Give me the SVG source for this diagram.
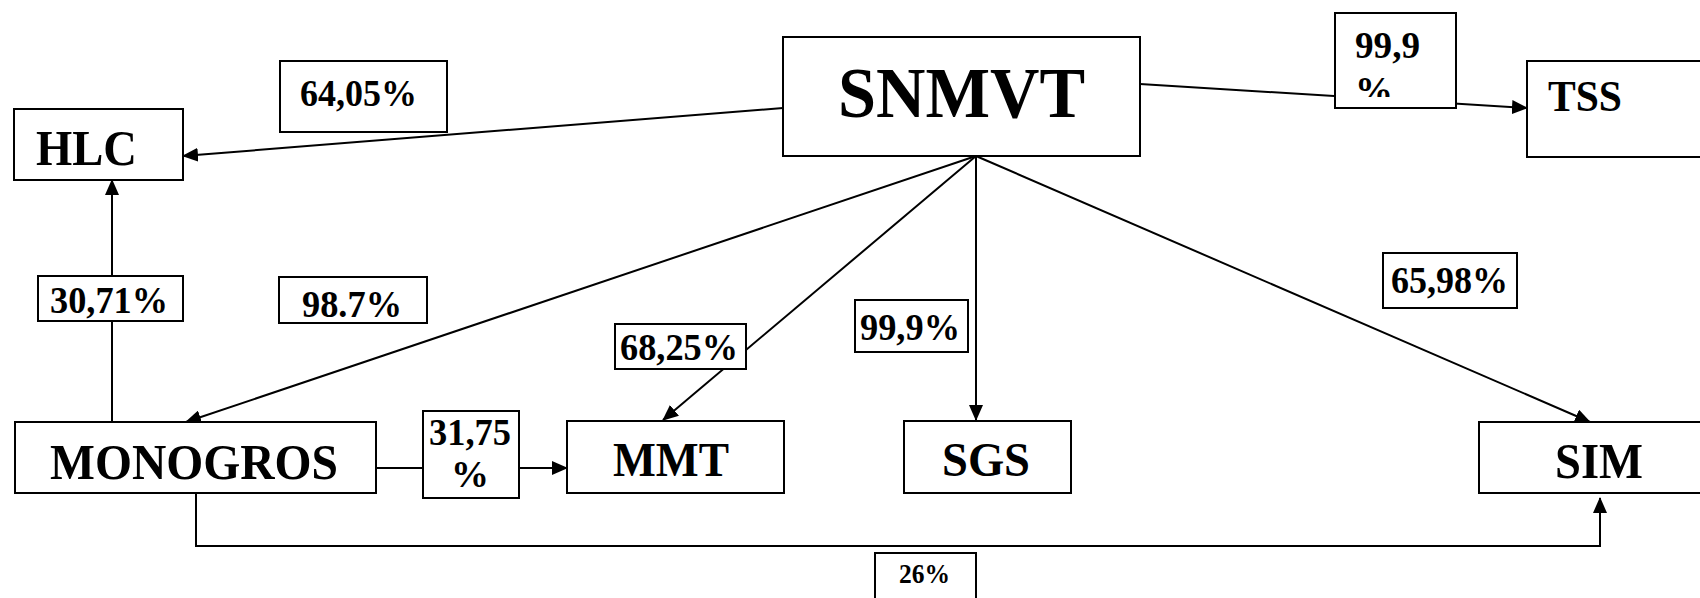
<svg xmlns="http://www.w3.org/2000/svg" width="1700" height="598" viewBox="0 0 1700 598">
<style>
rect{fill:#fff;stroke:#000;stroke-width:2}
text{font-family:"Liberation Serif","Times New Roman",serif;font-weight:bold;fill:#000}
.c{fill:none;stroke:#000;stroke-width:2}
.p{font-size:38px}
.n{font-size:50px}
</style>
<defs>
<marker id="ah" markerWidth="16" markerHeight="14" refX="15" refY="7" orient="auto" markerUnits="userSpaceOnUse"><path d="M0,0 L16,7 L0,14 z" fill="#000"/></marker>
<clipPath id="clip999"><rect x="1336" y="14" width="119" height="83"/></clipPath>
</defs>
<g id="connectors">
<line class="c" x1="783" y1="108" x2="183" y2="156" marker-end="url(#ah)"/>
<line class="c" x1="1140" y1="84" x2="1527" y2="108" marker-end="url(#ah)"/>
<line class="c" x1="976" y1="156" x2="186" y2="422" marker-end="url(#ah)"/>
<line class="c" x1="976" y1="156" x2="663" y2="420" marker-end="url(#ah)"/>
<line class="c" x1="976" y1="156" x2="976" y2="420" marker-end="url(#ah)"/>
<line class="c" x1="976" y1="156" x2="1590" y2="422" marker-end="url(#ah)"/>
<line class="c" x1="112" y1="422" x2="112" y2="180" marker-end="url(#ah)"/>
<line class="c" x1="376" y1="468" x2="567" y2="468" marker-end="url(#ah)"/>
<polyline class="c" points="196,493 196,546 1600,546 1600,498" marker-end="url(#ah)"/>
</g>
<g id="node-snmvt"><rect x="783" y="37" width="357" height="119"/><text x="838" y="117" font-size="72" textLength="247" lengthAdjust="spacingAndGlyphs">SNMVT</text></g>
<g id="node-hlc"><rect x="14" y="109" width="169" height="71"/><text x="36" y="165" font-size="50" textLength="101" lengthAdjust="spacingAndGlyphs">HLC</text></g>
<g id="node-tss"><rect x="1527" y="61" width="200" height="96"/><text x="1548" y="111" font-size="44" textLength="74" lengthAdjust="spacingAndGlyphs">TSS</text></g>
<g id="node-monogros"><rect x="15" y="422" width="361" height="71"/><text x="50" y="479" class="n" textLength="288" lengthAdjust="spacingAndGlyphs">MONOGROS</text></g>
<g id="node-mmt"><rect x="567" y="421" width="217" height="72"/><text x="613" y="476" font-size="49" textLength="116" lengthAdjust="spacingAndGlyphs">MMT</text></g>
<g id="node-sgs"><rect x="904" y="421" width="167" height="72"/><text x="942" y="476" font-size="49" textLength="88" lengthAdjust="spacingAndGlyphs">SGS</text></g>
<g id="node-sim"><rect x="1479" y="422" width="250" height="71"/><text x="1555" y="478" class="n" textLength="88" lengthAdjust="spacingAndGlyphs">SIM</text></g>
<g id="label-6405"><rect x="280" y="61" width="167" height="71"/><text x="300" y="106" class="p" textLength="117" lengthAdjust="spacingAndGlyphs">64,05%</text></g>
<g id="label-999-tss"><rect x="1335" y="13" width="121" height="95"/><g clip-path="url(#clip999)"><text x="1355" y="58" class="p" textLength="65" lengthAdjust="spacingAndGlyphs">99,9</text><text x="1355" y="103" class="p">%</text></g></g>
<g id="label-3071"><rect x="38" y="276" width="145" height="45"/><text x="50" y="313" class="p" textLength="118" lengthAdjust="spacingAndGlyphs">30,71%</text></g>
<g id="label-987"><rect x="279" y="277" width="148" height="46"/><text x="302" y="317" class="p" textLength="100" lengthAdjust="spacingAndGlyphs">98.7%</text></g>
<g id="label-6825"><rect x="615" y="324" width="131" height="45"/><text x="620" y="360" class="p" textLength="118" lengthAdjust="spacingAndGlyphs">68,25%</text></g>
<g id="label-999-sgs"><rect x="855" y="300" width="113" height="52"/><text x="860" y="340" class="p" textLength="100" lengthAdjust="spacingAndGlyphs">99,9%</text></g>
<g id="label-6598"><rect x="1383" y="253" width="134" height="55"/><text x="1391" y="293" class="p" textLength="117" lengthAdjust="spacingAndGlyphs">65,98%</text></g>
<g id="label-3175"><rect x="423" y="411" width="96" height="87"/><text x="429" y="445" class="p" textLength="82" lengthAdjust="spacingAndGlyphs">31,75</text><text x="470" y="487" class="p" text-anchor="middle">%</text></g>
<g id="label-26"><rect x="875" y="553" width="101" height="60"/><text x="899" y="583" font-size="27" textLength="51" lengthAdjust="spacingAndGlyphs">26%</text></g>
</svg>
